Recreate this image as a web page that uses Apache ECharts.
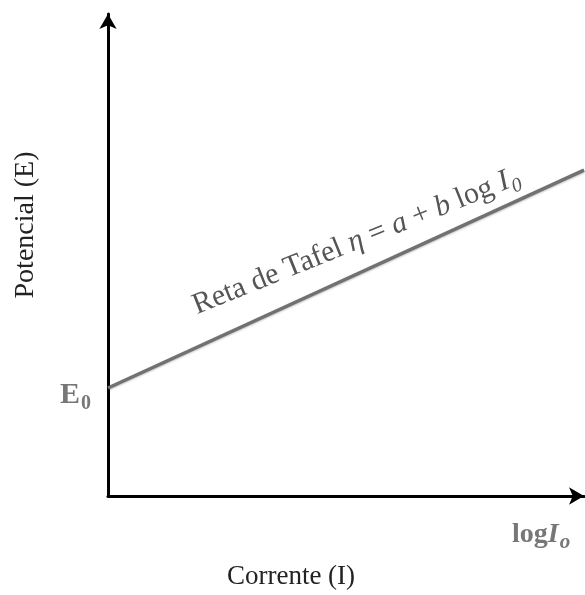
<!DOCTYPE html>
<html>
<head>
<meta charset="utf-8">
<script src="https://cdn.jsdelivr.net/npm/echarts@6/dist/echarts.min.js"></script>
<style>
html,body{margin:0;padding:0;background:#fff;}
#main{width:585px;height:595px;}
</style>
</head>
<body>
<div id="main"></div>
<script>
// axis ranges (arbitrary units, schematic chart)
const xRange = [0, 10];
const yRange = [0, 10];
// Tafel straight line: log I vs potential
const tafelX = [0, 10];
const tafelY = [2.24, 6.76];
// texts
const yAxisTitle = 'Potencial (E)';
const xAxisTitle = 'Corrente (I)';

const serif = '"Liberation Serif", "Times New Roman", "DejaVu Serif", serif';
const mctx = document.createElement('canvas').getContext('2d');
function tw(text, font) { mctx.font = font; return mctx.measureText(text).width; }

const chart = echarts.init(document.getElementById('main'), null, {renderer: 'canvas'});

const axisCommon = {
  type: 'value',
  splitLine: {show: false},
  axisTick: {show: false},
  axisLabel: {show: false},
  axisLine: {
    show: true,
    onZero: false,
    symbol: ['none', 'arrow'],
    symbolSize: [13, 15],
    lineStyle: {color: '#000', width: 3}
  }
};

// fonts
const fE = 'bold 30px ' + serif, fEs = 'bold 20px ' + serif;
const fLog = 'bold 28px ' + serif, fLogI = 'italic bold 28px ' + serif, fLogS = 'italic bold 21px ' + serif;
const fT = '30px ' + serif, fTi = 'italic 30px ' + serif, fTs = 'italic 20px ' + serif;

const tafelParts = [['Reta de Tafel ', 'm'], ['η', 'i'], [' = ', 'm'], ['a', 'i'], [' + ', 'm'], ['b', 'i'], [' log ', 'm'], ['I', 'i']];
const tafelW = tafelParts.reduce((s, p) => s + tw(p[0], p[1] === 'm' ? fT : fTi), 0);
const tafelRich = tafelParts.map(p => '{' + p[1] + '|' + p[0] + '}').join('');

chart.setOption({
  backgroundColor: '#fff',
  animation: false,
  grid: {left: 108, right: 1, top: 14, bottom: 99},
  xAxis: Object.assign({}, axisCommon, {min: xRange[0], max: xRange[1]}),
  yAxis: Object.assign({}, axisCommon, {min: yRange[0], max: yRange[1]}),
  series: [{
    type: 'line',
    data: tafelX.map((x, i) => [x, tafelY[i]]),
    symbol: 'none',
    lineStyle: {color: '#717171', width: 3.5, shadowColor: 'rgba(0,0,0,0.25)', shadowBlur: 2, shadowOffsetY: 1},
    z: 1
  }],
  graphic: [
    {
      type: 'text', x: 26, y: 225, rotation: Math.PI / 2,
      style: {text: yAxisTitle, font: '28px ' + serif, fill: '#222', align: 'center', verticalAlign: 'middle'}
    },
    {
      type: 'text', x: 291, y: 577,
      style: {text: xAxisTitle, font: '27px ' + serif, fill: '#222', align: 'center', verticalAlign: 'middle'}
    },
    {
      type: 'group', x: 60, y: 395,
      children: [
        {type: 'text', x: 0, y: 0, style: {text: 'E', font: fE, fill: '#777', align: 'left', verticalAlign: 'middle'}},
        {type: 'text', x: tw('E', fE) + 1, y: 9, style: {text: '0', font: fEs, fill: '#777', align: 'left', verticalAlign: 'middle'}}
      ]
    },
    {
      type: 'group', x: 512, y: 535,
      children: [
        {type: 'text', x: 0, y: 0, style: {text: 'log', font: fLog, fill: '#777', align: 'left', verticalAlign: 'middle'}},
        {type: 'text', x: tw('log', fLog), y: 0, style: {text: 'I', font: fLogI, fill: '#777', align: 'left', verticalAlign: 'middle'}},
        {type: 'text', x: tw('log', fLog) + tw('I', fLogI) + 1, y: 8, style: {text: 'o', font: fLogS, fill: '#777', align: 'left', verticalAlign: 'middle'}}
      ]
    },
    {
      type: 'group', x: 194, y: 307, rotation: 22 * Math.PI / 180,
      children: [
        {
          type: 'text', x: 0, y: 0,
          style: {
            text: tafelRich, fill: '#555', align: 'left', verticalAlign: 'middle',
            rich: {
              m: {font: fT, fill: '#555'},
              i: {font: fTi, fill: '#555'}
            }
          }
        },
        {type: 'text', x: tafelW + 1, y: 9, style: {text: '0', font: fTs, fill: '#555', align: 'left', verticalAlign: 'middle'}}
      ]
    }
  ]
});
</script>
</body>
</html>
